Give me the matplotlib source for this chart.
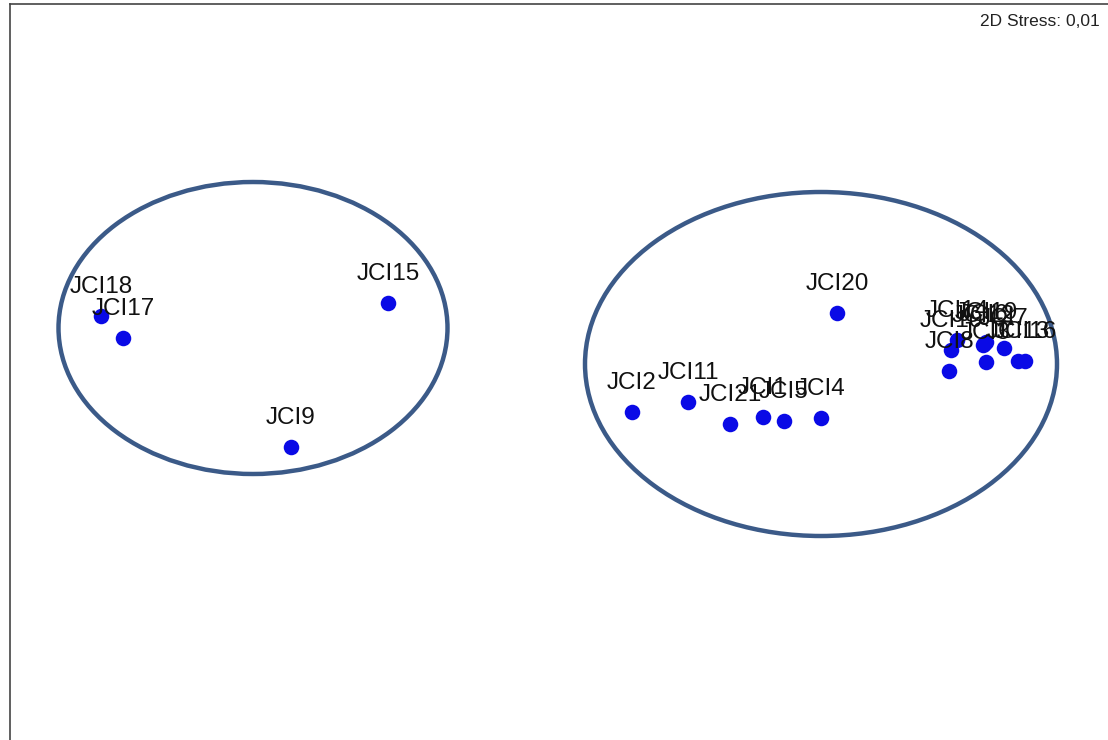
import matplotlib.pyplot as plt
from matplotlib.patches import Ellipse

# MDS ordination of the JCI samples
samples = ["JCI18", "JCI17", "JCI15", "JCI9",
           "JCI20", "JCI2", "JCI11", "JCI21", "JCI1", "JCI5", "JCI4",
           "JCI14", "JCI10", "JCI8", "JCI19", "JCI6", "JCI12", "JCI3",
           "JCI7", "JCI13", "JCI16"]
mds1 = [-2.295, -2.185, -0.860, -1.345,
        1.385, 0.360, 0.640, 0.850, 1.015, 1.120, 1.305,
        1.985, 1.955, 1.945, 2.130, 2.120, 2.115, 2.130,
        2.220, 2.290, 2.325]
mds2 = [0.320, 0.210, 0.385, -0.335,
        0.335, -0.160, -0.110, -0.220, -0.185, -0.205, -0.190,
        0.200, 0.150, 0.045, 0.190, 0.180, 0.175, 0.090,
        0.160, 0.095, 0.095]
stress = "0,01"

fig = plt.figure(figsize=(11.08, 7.40), dpi=100)
ax = fig.add_axes([10 / 1108, 0, 1 - 10 / 1108, 1 - 4 / 740])
ax.set_xlim(-2.75, 2.74)
ax.set_ylim(-1.80, 1.88)
ax.set_xticks([])
ax.set_yticks([])
for side in ["right", "bottom"]:
    ax.spines[side].set_visible(False)
for side in ["left", "top"]:
    ax.spines[side].set_color("#444444")
    ax.spines[side].set_linewidth(1.2)

# group outlines
ring = "#3b5a88"
ax.add_patch(Ellipse((-1.535, 0.26), 1.945, 1.46, fill=False,
                     edgecolor=ring, linewidth=3.2))
ax.add_patch(Ellipse((1.305, 0.08), 2.36, 1.72, fill=False,
                     edgecolor=ring, linewidth=3.2))

ax.scatter(mds1, mds2, s=125, color="#0a0ae6", zorder=3, linewidths=0)
for name, x, y in zip(samples, mds1, mds2):
    ax.annotate(name, (x, y), xytext=(0, 21), textcoords="offset points",
                ha="center", va="center", fontsize=17.5,
                family="Liberation Sans", color="#111111")

fig.text(1100 / 1108, 1 - 21 / 740, "2D Stress: " + stress, ha="right",
         va="center", fontsize=12.5,
         family=["Liberation Sans Narrow", "Liberation Sans"], color="#222222")

fig.savefig("out.png", dpi=100)
